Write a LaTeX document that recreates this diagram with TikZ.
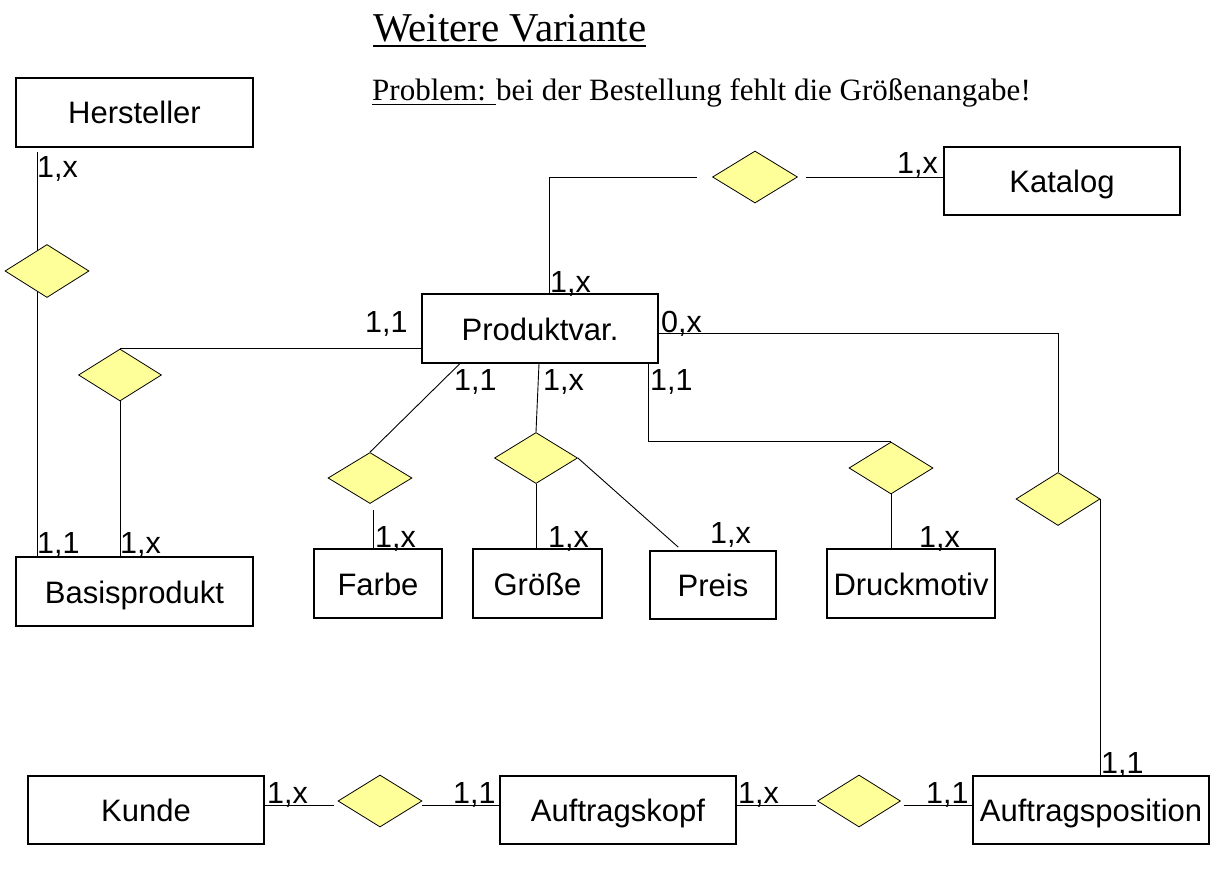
\documentclass[tikz,border=0pt]{standalone}
\usepackage{fontspec}
\setmainfont{Liberation Sans}
\newfontfamily\serifT{Liberation Serif}
\usetikzlibrary{shapes.geometric,backgrounds}
\definecolor{relfill}{RGB}{255,255,153}
\newlength\ulw
\tikzset{
  ent/.style={draw, line width=1.1pt, inner sep=0pt, text height=23pt, text depth=0pt, font=\fontsize{31}{37}\selectfont},
  rel/.style={diamond, draw, fill=relfill, inner sep=0pt, line width=0.8pt, minimum width=84pt, minimum height=52pt},
  lab/.style={anchor=base west, inner sep=0pt, font=\fontsize{30.5}{36}\selectfont},
  conn/.style={line width=0.9pt}
}
\begin{document}
\begin{tikzpicture}[x=1pt,y=-1pt]
\useasboundingbox (0,0) rectangle (1232,875);
% titles
\node[anchor=base west, inner sep=0pt, font=\serifT\fontsize{41}{49}\selectfont] (title) at (373,42)
  {\settowidth{\ulw}{Weitere Variante}\rlap{\rule[-5pt]{\ulw}{1.8pt}}Weitere Variante};
\node[anchor=base west, inner sep=0pt, font=\serifT\fontsize{31}{37}\selectfont] (problem) at (372,100)
  {\settowidth{\ulw}{Problem: }\rlap{\rule[-5pt]{\ulw}{1.2pt}}Problem: bei der Bestellung fehlt die Größenangabe!};
% entities
\node[ent, minimum width=237pt, minimum height=69pt] (hers) at (134.5,112.5) {Hersteller};
\node[ent, minimum width=237pt, minimum height=69pt] (basis) at (134.5,591.5) {Basisprodukt};
\node[ent, minimum width=236pt, minimum height=69pt] (prod) at (540,328.5) {Produktvar.};
\node[ent, minimum width=236pt, minimum height=68pt] (kat) at (1062,181) {Katalog};
\node[ent, minimum width=128pt, minimum height=69pt] (farbe) at (378,583.5) {Farbe};
\node[ent, minimum width=129pt, minimum height=69pt] (groesse) at (537.5,583.5) {Größe};
\node[ent, minimum width=126pt, minimum height=68pt] (preis) at (713,585) {Preis};
\node[ent, minimum width=168pt, minimum height=69pt] (druck) at (911,583.5) {Druckmotiv};
\node[ent, minimum width=236pt, minimum height=68pt] (kunde) at (146,810) {Kunde};
\node[ent, minimum width=236pt, minimum height=68pt] (kopf) at (618,810) {Auftragskopf};
\node[ent, minimum width=236pt, minimum height=68pt] (pos) at (1091,810) {Auftragsposition};
% relationships
\node[rel, minimum height=53pt] (d1) at (47,271) {};
\node[rel, minimum width=83pt] (d2) at (120,375) {};
\node[rel, minimum width=85pt] (dkat) at (755,177) {};
\node[rel, minimum height=51pt] (dfarbe) at (370,478) {};
\node[rel, minimum width=83pt, minimum height=51pt] (dgr) at (536,458) {};
\node[rel] (ddruck) at (891,468) {};
\node[rel, minimum height=53pt] (dpos) at (1058,499) {};
\node[rel] (dkunde) at (380,801) {};
\node[rel, minimum width=83pt] (dkopf) at (859,801) {};
% cardinalities
\node[lab, xshift=-3pt] (l1) at (40,177) {1,x};
\node[lab, xshift=-3pt] (l2) at (368,332) {1,1};
\node[lab, xshift=-3pt] (l3) at (553,292) {1,x};
\node[lab, xshift=-1pt] (l4) at (662,332) {0,x};
\node[lab, xshift=-3pt] (l5) at (457,390) {1,1};
\node[lab, xshift=-3pt] (l6) at (546,390) {1,x};
\node[lab, xshift=-3pt] (l7) at (653,390) {1,1};
\node[lab, xshift=-3pt] (l8) at (900,173) {1,x};
\node[lab, xshift=-3pt] (l9) at (40,553) {1,1};
\node[lab, xshift=-3pt] (l10) at (123,553) {1,x};
\node[lab, xshift=-3pt] (l11) at (378,547) {1,x};
\node[lab, xshift=-3pt] (l12) at (551,547) {1,x};
\node[lab, xshift=-3pt] (l13) at (713,543) {1,x};
\node[lab, xshift=-3pt] (l14) at (922,547) {1,x};
\node[lab, xshift=-3pt] (l15) at (270,803) {1,x};
\node[lab, xshift=-3pt] (l16) at (456,803) {1,1};
\node[lab, xshift=-3pt] (l17) at (741,803) {1,x};
\node[lab, xshift=-3pt] (l18) at (929,803) {1,1};
\node[lab, xshift=-3pt] (l19) at (1104,773) {1,1};
% connectors
\begin{pgfonlayer}{background}
\fill[white] (0,0) rectangle (1232,875);
\draw[conn, shorten <=4pt] (37,0 |- hers.south) -- (37,0 |- basis.north);
\draw[conn] (d2.south) -- (d2.south |- basis.north);
\draw[conn] (d2.north) -- (d2.north -| prod.west);
\draw[conn, shorten >=15pt] (549,0 |- prod.north) |- (dkat.west);
\draw[conn, shorten <=8pt] (dkat.east) -- (dkat.east -| kat.west);
\draw[conn] (prod.east |- 0,333) -| (dpos.north);
\draw[conn] (648,0 |- prod.south) |- (ddruck.north);
\draw[conn] (ddruck.south) -- (ddruck.south |- druck.north);
\draw[conn] (dpos.east) -- (dpos.east |- pos.north);
\draw[conn] (460,0 |- prod.south) -- (dfarbe.north);
\draw[conn, shorten <=6pt] (373,0 |- dfarbe.south) -- (373,0 |- farbe.north);
\draw[conn] (539,0 |- prod.south) -- (dgr.north);
\draw[conn] (dgr.south) -- (dgr.south |- groesse.north);
\draw[conn, shorten >=5pt] (dgr.east) -- (682,0 |- preis.north);
\draw[conn, shorten >=4pt] (kunde.east |- 0,805) -- (dkunde.west |- 0,805);
\draw[conn] (dkunde.east |- 0,805) -- (kopf.west |- 0,805);
\draw[conn, shorten >=1pt] (kopf.east |- 0,805) -- (dkopf.west |- 0,805);
\draw[conn, shorten <=3pt] (dkopf.east |- 0,805) -- (pos.west |- 0,805);
\end{pgfonlayer}
\end{tikzpicture}
\end{document}
